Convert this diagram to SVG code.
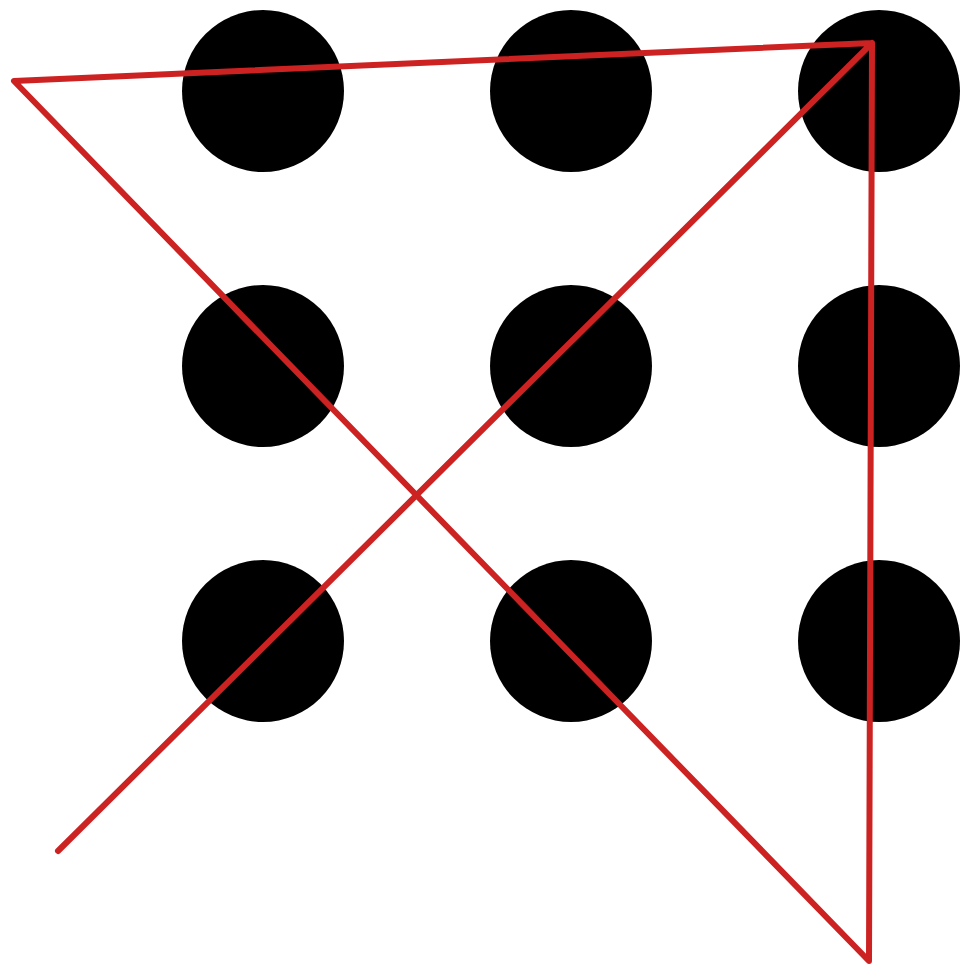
<svg xmlns="http://www.w3.org/2000/svg" width="961" height="969" viewBox="0 0 961 969">
<style>
.dot{fill:#000}
.ln{fill:none;stroke:#cc2222;stroke-width:6;stroke-linecap:round;stroke-linejoin:round}
</style>
<rect width="961" height="969" fill="#fff"/>
<g id="dot1"><circle class="dot" cx="263" cy="91" r="81"/></g>
<g id="dot2"><circle class="dot" cx="571" cy="91" r="81"/></g>
<g id="dot3"><circle class="dot" cx="879" cy="91" r="81"/></g>
<g id="dot4"><circle class="dot" cx="263" cy="366" r="81"/></g>
<g id="dot5"><circle class="dot" cx="571" cy="366" r="81"/></g>
<g id="dot6"><circle class="dot" cx="879" cy="366" r="81"/></g>
<g id="dot7"><circle class="dot" cx="263" cy="641" r="81"/></g>
<g id="dot8"><circle class="dot" cx="571" cy="641" r="81"/></g>
<g id="dot9"><circle class="dot" cx="879" cy="641" r="81"/></g>
<g id="connectors">
<polyline class="ln" points="58,851 872,43 869,961 14,81 872,43"/>
</g>
</svg>
